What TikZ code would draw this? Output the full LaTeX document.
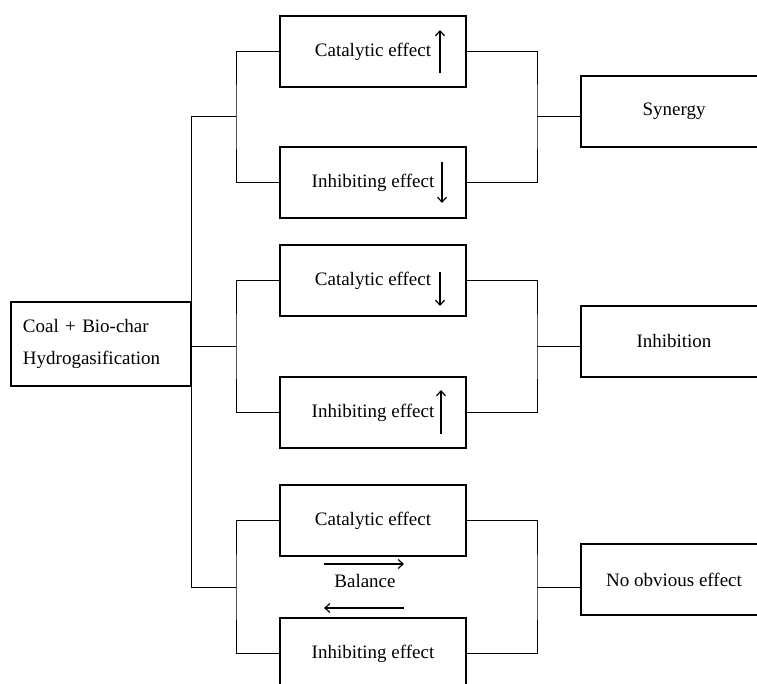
\documentclass[tikz,border=0pt]{standalone}
\usepackage{fontspec}
\setmainfont{Liberation Serif}
\usepackage{tikz}
\usetikzlibrary{arrows.meta,positioning,calc}

\begin{document}
\begin{tikzpicture}[
  x=1pt,y=-1pt,
  font=\fontsize{19}{32}\selectfont,
  box/.style={draw,line width=2.2pt,outer sep=0pt,
              minimum width=186pt,minimum height=71pt},
  effect/.style={box},
  result/.style={box},
  feed/.style={draw,line width=2.2pt,outer sep=0pt,align=left,
               text width=156pt,inner sep=12pt,
               minimum width=180pt,minimum height=84pt},
  link/.style={line width=1pt},
  trend/.style={line width=1.2pt,-{Straight Barb[length=5pt,width=9pt]}}
]
\useasboundingbox[fill=white] (0,0) rectangle (757,684);
\node[feed] (coal) at (101,344) {Coal + Bio-char\\Hydrogasification};
\node[effect] (cat1) at (373,51.5) {Catalytic effect};
\node[effect,below=60pt of cat1] (inh1) {Inhibiting effect};
\node[effect,below=27pt of inh1] (cat2) {Catalytic effect};
\node[effect,below=61pt of cat2] (inh2) {Inhibiting effect};
\node[effect,below=37pt of inh2] (cat3) {Catalytic effect};
\node[effect,below=62pt of cat3] (inh3) {Inhibiting effect};
\node[result] (syn)   at (674,111.5) {Synergy};
\node[result] (inhb)  at (674,341.5) {Inhibition};
\node[result] (noeff) at (674,579.5) {No obvious effect};
\foreach \c/\i/\r in {cat1/inh1/syn,cat2/inh2/inhb,cat3/inh3/noeff}{
  \coordinate (\c-l) at ($(\c.west)!0.5!(\i.west)+(-44,0)$);
  \coordinate (\c-r) at ($(\c.east)!0.5!(\i.east)+(71,0)$);
  \draw[link] (\c.west) -| (\c-l) |- (\i.west);
  \draw[link] (\c.east) -| (\c-r) |- (\i.east);
  \draw[link] (\c-r) -- (\r.west |- \c-r);
  \draw[link] (coal.east |- \c-l) -- (\c-l);
}
\draw[link] (coal.east |- cat1-l) -- (coal.east |- cat3-l);
\coordinate (a1) at ($(cat1.center)+(67,21.5)$);
\coordinate (a2) at ($(inh1.center)+(69,-20.5)$);
\coordinate (a3) at ($(cat2.center)+(67,-8.5)$);
\coordinate (a4) at ($(inh2.center)+(68,21.5)$);
\draw[trend] (a1) -- ++(0,-43);
\draw[trend] (a2) -- ++(0,41);
\draw[trend] (a3) -- ++(0,34);
\draw[trend] (a4) -- ++(0,-44);
\node (bal) at (365,581) {Balance};
\coordinate (b1) at ($(bal.center)+(-41,-17)$);
\coordinate (b2) at ($(bal.center)+(39,27)$);
\draw[trend] (b1) -- ++(80,0);
\draw[trend] (b2) -- ++(-80,0);
\end{tikzpicture}
\end{document}
